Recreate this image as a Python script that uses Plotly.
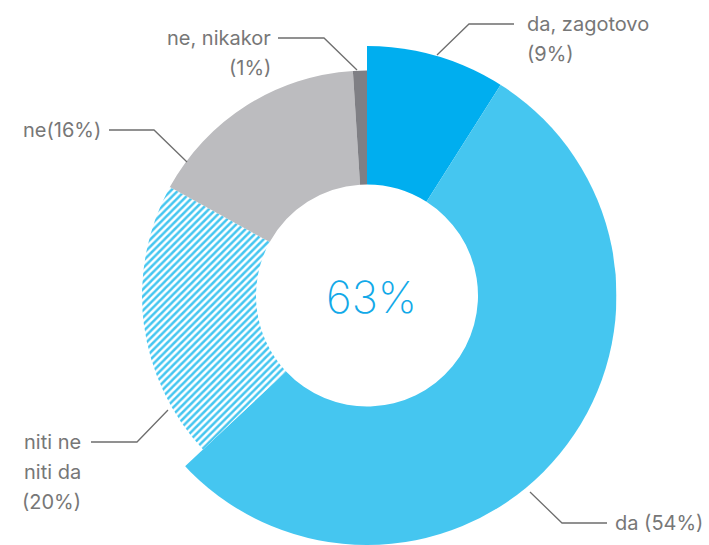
import plotly.graph_objects as go

# ---------------- data ----------------
categories = ["da, zagotovo", "da", "niti ne niti da", "ne", "ne, nikakor"]
values = [9, 54, 20, 16, 1]
label_lines = [
    ["da, zagotovo", "(9%)"],
    ["da (54%)"],
    ["niti ne", "niti da", "(20%)"],
    ["ne(16%)"],
    ["ne, nikakor", "(1%)"],
]
center_text = "63%"

# ---------------- styles / layout ----------------
W, H = 709, 545
CX, CY = 367, 295.5          # pie centre, px from top-left
RADIUS_PX = 249.5
R_IN = 111
R_OUT = [251, 251, 225, 225, 225]
COLORS = ["#00AEEF", "#45C6F0", "#45C6F0", "#BCBCBF", "#7F7F84"]
HATCH = [False, False, True, False, False]
TEXT_COLOR = "#777777"
LINE_COLOR = "#6E6E6E"
FONT = "Inter, Noto Sans, sans-serif"
FS = 20
LINE_GAP = 30

# label geometry in px: leader (start, elbow, end), text anchor x, first line y, side
LABEL_GEOM = [
    dict(pts=[(437, 55), (469, 24), (514, 24)], tx=525, ty=24, side="left"),
    dict(pts=[(530, 492), (562, 523), (607, 523)], tx=613, ty=523, side="left"),
    dict(pts=[(168, 410), (137, 442), (91, 442)], tx=83, ty=442, side="right"),
    dict(pts=[(187, 162), (154, 130), (109, 130)], tx=103, ty=130, side="right"),
    dict(pts=[(357, 70), (324, 38), (278, 38)], tx=273, ty=38, side="right"),
]

total = sum(values)
fig = go.Figure()
start = 0.0
for i, (cat, v) in enumerate(zip(categories, values)):
    width = v / total * 360.0
    mid = start + width / 2
    start += width
    marker = dict(color=COLORS[i], line=dict(width=0))
    if HATCH[i]:
        marker = dict(
            color="white",
            line=dict(width=0),
            pattern=dict(shape="/", fgcolor=COLORS[i], bgcolor="white",
                         size=5, solidity=0.5, fillmode="replace"),
        )
    fig.add_trace(go.Barpolar(
        r=[R_OUT[i] - R_IN], theta=[mid], width=[width], base=[R_IN],
        marker=marker, name=cat, hoverinfo="name",
    ))

def px(x, y):
    return x / W, 1 - y / H

shapes = []
annotations = []
for lines, g in zip(label_lines, LABEL_GEOM):
    pts = [px(*p) for p in g["pts"]]
    path = "M {} {} L {} {} L {} {}".format(pts[0][0], pts[0][1], pts[1][0], pts[1][1], pts[2][0], pts[2][1])
    shapes.append(dict(type="path", xref="paper", yref="paper", path=path,
                       line=dict(color=LINE_COLOR, width=1.3)))
    for j, t in enumerate(lines):
        x, y = px(g["tx"], g["ty"] + j * LINE_GAP)
        annotations.append(dict(
            x=x, y=y, xref="paper", yref="paper", text=t, showarrow=False,
            xanchor="left" if g["side"] == "left" else "right", yanchor="middle",
            font=dict(family=FONT, size=FS, color=TEXT_COLOR),
        ))

cx, cy = px(CX + 4, CY + 2)
annotations.append(dict(
    x=cx, y=cy, xref="paper", yref="paper", text=center_text, showarrow=False,
    xanchor="center", yanchor="middle",
    font=dict(family="Inter, sans-serif", size=44, color="#12A9E8", weight=200),
))

fig.update_layout(
    width=W, height=H,
    margin=dict(l=0, r=0, t=0, b=0),
    paper_bgcolor="white", plot_bgcolor="white",
    showlegend=False,
    polar=dict(
        domain=dict(x=[(CX - RADIUS_PX) / W, (CX + RADIUS_PX) / W],
                    y=[0, 2 * RADIUS_PX / H]),
        bgcolor="rgba(0,0,0,0)",
        bargap=0,
        radialaxis=dict(visible=False, range=[0, RADIUS_PX]),
        angularaxis=dict(visible=False, rotation=90, direction="clockwise",
                         showgrid=False, showline=False, showticklabels=False, ticks=""),
    ),
    shapes=shapes,
    annotations=annotations,
)

fig.write_html(
    "out.html",
    config={"displayModeBar": False},
    post_script="document.body.style.margin='0px';document.body.style.overflow='hidden';",
)
